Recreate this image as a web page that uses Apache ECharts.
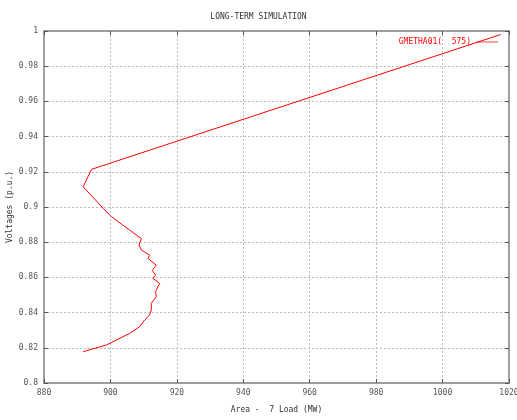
<!DOCTYPE html>
<html><head><meta charset="utf-8">
<script src="https://cdn.jsdelivr.net/npm/echarts@6/dist/echarts.min.js"></script>
<style>html,body{margin:0;padding:0;background:#fff}#c{width:517px;height:420px}</style>
</head><body><div id="c"></div>
<script>
const titleText = "LONG-TERM SIMULATION";
const seriesName = "GMETHA01(  575)";
const xName = "Area -  7 Load (MW)";
const yName = "Voltages (p.u.)";
const loadMW = [891.8, 898.8, 905.8, 908.8, 910.3, 911.8, 912.3, 912.3, 913.8, 913.6, 914.8, 912.8, 913.6, 912.6, 913.8, 911.3, 911.8, 909.3, 908.6, 909.3, 900.3, 897.8, 891.8, 894.3, 1017.5];
const voltage = [0.8178, 0.8216, 0.8282, 0.832, 0.8358, 0.8386, 0.8415, 0.8453, 0.849, 0.8519, 0.8566, 0.8595, 0.8614, 0.864, 0.867, 0.8708, 0.8727, 0.8756, 0.8784, 0.882, 0.8945, 0.8993, 0.9115, 0.9214, 0.998];

const font = "DejaVu Sans Mono";
const chart = echarts.init(document.getElementById('c'));
const pts = loadMW.map((x, i) => [x, voltage[i]]);
const axisCommon = {
  axisLine: {show: true, lineStyle: {color: '#999', width: 1.5}},
  axisTick: {show: true, inside: true, length: 4, lineStyle: {color: '#555'}},
};
chart.setOption({
  animation: false,
  title: {text: titleText, left: 'center', top: 8, textStyle: {fontFamily: font, fontSize: 8, fontWeight: 'normal', color: '#333'}},
  legend: {
    data: [seriesName], right: 14, top: 33, align: 'right', itemWidth: 22, itemHeight: 6, itemGap: 4,
    icon: 'path://M0,5L30,5L30,6L0,6Z',
    textStyle: {fontFamily: font, fontSize: 8, color: '#f00'}
  },
  grid: {left: 44, right: 8, top: 31, bottom: 37, show: true, borderColor: '#999', borderWidth: 1.5, containLabel: false, outerBoundsMode: 'none'},
  xAxis: [
    Object.assign({type: 'value', min: 880, max: 1020, interval: 20, name: xName, nameLocation: 'middle', nameGap: 23, nameMoveOverlap: false,
      nameTextStyle: {fontFamily: font, fontSize: 8, color: '#333'},
      axisLabel: {fontFamily: font, fontSize: 8, color: '#555', margin: 6, formatter: v => String(v)},
      splitLine: {show: true, lineStyle: {color: '#bbb', type: [2, 2], width: 1}}}, axisCommon),
    Object.assign({type: 'value', position: 'top', min: 880, max: 1020, interval: 20, axisLabel: {show: false}, splitLine: {show: false}}, axisCommon)
  ],
  yAxis: [
    Object.assign({type: 'value', min: 0.8, max: 1, interval: 0.02, name: yName, nameLocation: 'middle', nameGap: 30, nameMoveOverlap: false,
      nameTextStyle: {fontFamily: font, fontSize: 8, color: '#333'},
      axisLabel: {fontFamily: font, fontSize: 8, color: '#555', margin: 6, formatter: v => String(+v.toFixed(2))},
      splitLine: {show: true, lineStyle: {color: '#bbb', type: [2, 2], width: 1}}}, axisCommon),
    Object.assign({type: 'value', position: 'right', min: 0.8, max: 1, interval: 0.02, axisLabel: {show: false}, splitLine: {show: false}}, axisCommon)
  ],
  series: [{
    name: seriesName, type: 'line', data: pts, showSymbol: false, symbol: 'none',
    lineStyle: {color: '#f00', width: 1}, itemStyle: {color: '#f00'}
  }]
});
</script></body></html>
